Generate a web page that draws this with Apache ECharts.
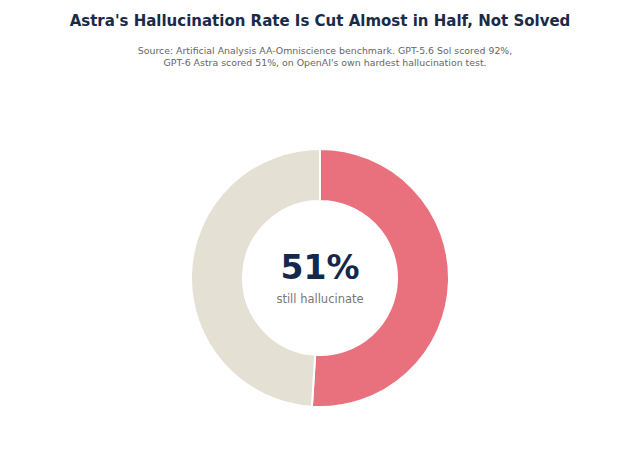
<!DOCTYPE html>
<html>
<head>
    <meta charset="utf-8">
    <script src="https://cdn.jsdelivr.net/npm/echarts@6/dist/echarts.min.js"></script>
    <style>
        html, body { margin: 0; padding: 0; background: #fff; }
        #chart { width: 640px; height: 461px; }
    </style>
</head>
<body>
    <div id="chart"></div>
    <script>
        let categories = ['Still hallucinate', 'Correct or abstain'];
        let values = [51, 49];
        let colors = ['#e9717d', '#e5e0d4'];

        var chart = echarts.init(document.getElementById('chart'), null, { renderer: 'svg' });
        var option = {
            backgroundColor: '#ffffff',
            title: [{
                text: "Astra's Hallucination Rate Is Cut Almost in Half, Not Solved",
                left: 'center',
                top: 8,
                textStyle: {
                    fontFamily: 'DejaVu Sans',
                    fontSize: 15,
                    fontWeight: 'bold',
                    color: '#1a2a48'
                }
            }, {
                text: "Source: Artificial Analysis AA-Omniscience benchmark. GPT-5.6 Sol scored 92%,\nGPT-6 Astra scored 51%, on OpenAI's own hardest hallucination test.",
                left: 320,
                top: 40,
                textAlign: 'center',
                textStyle: {
                    fontFamily: 'DejaVu Sans',
                    fontSize: 9.4,
                    fontWeight: 'normal',
                    color: '#666666',
                    lineHeight: 11.5,
                    align: 'center'
                }
            }, {
                text: values[0] + '%',
                left: 'center',
                top: 246,
                textStyle: {
                    fontFamily: 'DejaVu Sans',
                    fontSize: 33,
                    fontWeight: 'bold',
                    color: '#13284a'
                }
            }, {
                text: 'still hallucinate',
                left: 'center',
                top: 288,
                textStyle: {
                    fontFamily: 'DejaVu Sans',
                    fontSize: 11.5,
                    fontWeight: 'normal',
                    color: '#777777'
                }
            }],
            series: [{
                type: 'pie',
                center: [320, 278],
                radius: [77, 129],
                startAngle: 90,
                clockwise: true,
                silent: true,
                label: { show: false },
                labelLine: { show: false },
                itemStyle: {
                    borderColor: '#ffffff',
                    borderWidth: 2
                },
                data: categories.map((c, i) => ({
                    name: c,
                    value: values[i],
                    itemStyle: { color: colors[i] }
                }))
            }]
        };
        chart.setOption(option);
    </script>
</body>
</html>
